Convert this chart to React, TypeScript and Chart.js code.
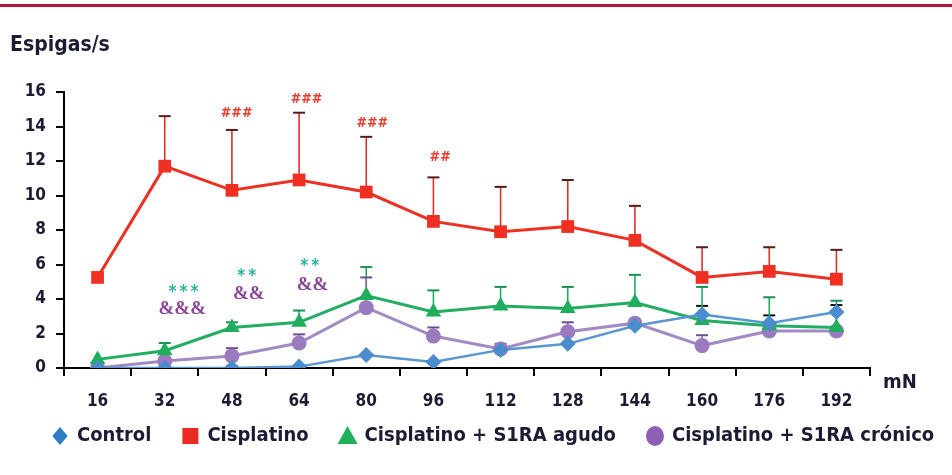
import React, { useEffect, useRef } from "react";
import { Chart, registerables } from "chart.js";

Chart.register(...registerables);

const categories = ["16", "32", "48", "64", "80", "96", "112", "128", "144", "160", "176", "192"];

const controlValues = [0, 0, 0, 0.08, 0.75, 0.35, 1.05, 1.4, 2.45, 3.1, 2.6, 3.25];
const controlErrors = [0, 0, 0.1, 0, 0, 0, 0, 0, 0, 0.5, 0.45, 0.4];

const cisplatinoValues = [5.25, 11.7, 10.3, 10.9, 10.2, 8.5, 7.9, 8.2, 7.4, 5.25, 5.6, 5.15];
const cisplatinoErrors = [0, 2.9, 3.5, 3.9, 3.2, 2.55, 2.6, 2.7, 2.0, 1.75, 1.4, 1.7];

const agudoValues = [0.5, 1.0, 2.35, 2.65, 4.2, 3.25, 3.6, 3.45, 3.8, 2.75, 2.45, 2.35];
const agudoErrors = [0, 0.45, 0.3, 0.68, 1.65, 1.25, 1.1, 1.25, 1.6, 1.95, 1.65, 1.55];

const cronicoValues = [0, 0.4, 0.7, 1.45, 3.5, 1.85, 1.1, 2.1, 2.6, 1.3, 2.15, 2.15];
const cronicoErrors = [0, 0.1, 0.45, 0.5, 1.75, 0.5, 0.3, 0.55, 0, 0.6, 0.2, 0];

const yTicks = [0, 2, 4, 6, 8, 10, 12, 14, 16];

// annotations: text, x (category index position), y (data value), kind
const annotationTexts = ["###", "###", "###", "##", "***", "&&&", "**", "&&", "**", "&&"];
const annotationX = [2.07, 3.11, 4.09, 5.1, 1.28, 1.26, 2.22, 2.25, 3.16, 3.2];
const annotationY = [14.75, 15.56, 14.2, 12.2, 4.55, 3.43, 5.5, 4.26, 6.07, 4.78];
const annotationKinds = ["hash", "hash", "hash", "hash", "star", "amp", "star", "amp", "star", "amp"];

const TEXT_COLOR = "#1b1b36";
const FONT = "'DejaVu Sans Condensed', 'DejaVu Sans', sans-serif";

const errorBarPlugin = {
  id: "errorBars",
  beforeDatasetsDraw(chart: any) {
    const { ctx } = chart;
    const y = chart.scales.y;
    chart.data.datasets.forEach((ds: any, di: number) => {
      const meta = chart.getDatasetMeta(di);
      const errs: number[] = ds.errors || [];
      ctx.save();
      ds.data.forEach((v: number, i: number) => {
        const e = errs[i];
        if (!e) return;
        const pt = meta.data[i];
        const x = pt.x;
        const y0 = y.getPixelForValue(v);
        const y1 = y.getPixelForValue(v + e);
        ctx.strokeStyle = ds.errorColor;
        ctx.lineWidth = 1.6;
        ctx.beginPath();
        ctx.moveTo(x, y0);
        ctx.lineTo(x, y1);
        ctx.stroke();
        ctx.strokeStyle = ds.capColor;
        ctx.lineWidth = 2;
        ctx.beginPath();
        ctx.moveTo(x - 6, y1);
        ctx.lineTo(x + 6, y1);
        ctx.stroke();
      });
      ctx.restore();
    });
  },
};

const annotationPlugin = {
  id: "annots",
  afterDatasetsDraw(chart: any) {
    const { ctx } = chart;
    const xs = chart.scales.x;
    const ys = chart.scales.y;
    ctx.save();
    ctx.textAlign = "center";
    ctx.textBaseline = "middle";
    annotationTexts.forEach((t, i) => {
      const kind = annotationKinds[i];
      const x = xs.getPixelForValue(annotationX[i]);
      const y = ys.getPixelForValue(annotationY[i]);
      if (kind === "hash") {
        ctx.font = `bold 14px ${FONT}`;
        ctx.fillStyle = "#ee3a2c";
        ctx.fillText(t, x, y);
      } else if (kind === "star") {
        ctx.font = `bold 17px ${FONT}`;
        ctx.fillStyle = "#2db39a";
        const s = t.split("").join("\u2009");
        ctx.fillText(s, x, y + 3);
      } else {
        ctx.font = `bold 19px 'Liberation Serif', 'DejaVu Serif', serif`;
        ctx.fillStyle = "#8b4599";
        ctx.fillText(t, x, y);
      }
    });
    ctx.restore();
  },
};

const extrasPlugin = {
  id: "extras",
  afterDraw(chart: any) {
    const { ctx } = chart;
    ctx.save();
    // y-axis title
    ctx.font = `bold 21px ${FONT}`;
    ctx.fillStyle = TEXT_COLOR;
    ctx.textAlign = "left";
    ctx.textBaseline = "middle";
    ctx.fillText("Espigas/s", 10, 46);
    // x unit
    ctx.font = `bold 20px ${FONT}`;
    ctx.fillText("mN", 883, 383);

    // legend
    const ly = 436;
    let mx = 60;
    ctx.font = `bold 20px ${FONT}`;
    chart.data.datasets.forEach((ds: any) => {
      ctx.fillStyle = ds.legendColor;
      ctx.beginPath();
      const r = 9;
      if (ds.pointStyle === "rectRot") {
        ctx.moveTo(mx, ly - r);
        ctx.lineTo(mx + r * 0.85, ly);
        ctx.lineTo(mx, ly + r);
        ctx.lineTo(mx - r * 0.85, ly);
        ctx.closePath();
      } else if (ds.pointStyle === "rect") {
        ctx.rect(mx - 8, ly - 8, 16, 16);
      } else if (ds.pointStyle === "triangle") {
        ctx.moveTo(mx, ly - 10);
        ctx.lineTo(mx + 10, ly + 8);
        ctx.lineTo(mx - 10, ly + 8);
        ctx.closePath();
      } else {
        ctx.ellipse(mx, ly, 9, 10, 0, 0, Math.PI * 2);
      }
      ctx.fill();
      ctx.fillStyle = TEXT_COLOR;
      ctx.textAlign = "left";
      ctx.textBaseline = "middle";
      const tx = mx + 17;
      ctx.fillText(ds.label, tx, ly);
      mx = tx + ctx.measureText(ds.label).width + 39;
    });
    ctx.restore();
  },
};

export default function App() {
  const ref = useRef<HTMLCanvasElement | null>(null);

  useEffect(() => {
    if (!ref.current) return;
    const chart = new Chart(ref.current, {
      type: "line",
      data: {
        labels: categories,
        datasets: [
          {
            label: "Control",
            data: controlValues,
            errors: controlErrors,
            borderColor: "#5a96d2",
            backgroundColor: "#4a8ccd",
            legendColor: "#2f7ec3",
            errorColor: "#3a3a3a",
            capColor: "#111111",
            pointStyle: "rectRot",
            pointRadius: 8,
            pointBackgroundColor: "#4a8ccd",
            pointBorderWidth: 0,
            borderWidth: 2.5,
            order: 1,
          },
          {
            label: "Cisplatino",
            data: cisplatinoValues,
            errors: cisplatinoErrors,
            borderColor: "#ee2f22",
            backgroundColor: "#ee2f22",
            legendColor: "#ec2a22",
            errorColor: "#e0302a",
            capColor: "#5a1a16",
            pointStyle: "rect",
            pointRadius: 9,
            pointBackgroundColor: "#ee2f22",
            pointBorderWidth: 0,
            borderWidth: 3,
            order: 0,
          },
          {
            label: "Cisplatino + S1RA agudo",
            data: agudoValues,
            errors: agudoErrors,
            borderColor: "#22ad62",
            backgroundColor: "#1fae5c",
            legendColor: "#1fb05a",
            errorColor: "#22ad62",
            capColor: "#1a8f4f",
            pointStyle: "triangle",
            pointRadius: 9,
            pointBackgroundColor: "#1fae5c",
            pointBorderWidth: 0,
            borderWidth: 3,
            order: 2,
          },
          {
            label: "Cisplatino + S1RA crónico",
            data: cronicoValues,
            errors: cronicoErrors,
            borderColor: "#a28ac4",
            backgroundColor: "#9b7bbf",
            legendColor: "#8e5fb2",
            errorColor: "#8e6bb0",
            capColor: "#6d4c90",
            pointStyle: "circle",
            pointRadius: 7.5,
            pointBackgroundColor: "#9b7bbf",
            pointBorderWidth: 0,
            borderWidth: 3,
            order: 3,
          },
        ] as any,
      },
      options: {
        responsive: false,
        animation: false,
        events: [],
        layout: { padding: { top: 92, right: 82, left: 0, bottom: 0 } },
        plugins: { legend: { display: false }, tooltip: { enabled: false } },
        scales: {
          x: {
            type: "category",
            offset: true,
            grid: { offset: true, drawOnChartArea: false, color: "#000", lineWidth: 2, tickLength: 8 },
            border: { color: "#000", width: 2 },
            ticks: { color: TEXT_COLOR, font: { family: FONT, size: 17, weight: "bold" }, padding: 15, maxRotation: 0 },
            afterFit: (s: any) => {
              s.height = 107;
            },
          },
          y: {
            min: 0,
            max: 16,
            afterBuildTicks: (s: any) => {
              s.ticks = yTicks.map((v) => ({ value: v }));
            },
            grid: { drawOnChartArea: false, color: "#000", lineWidth: 2, tickLength: 8 },
            border: { color: "#000", width: 2 },
            ticks: { color: TEXT_COLOR, font: { family: FONT, size: 17, weight: "bold" }, padding: 10 },
            afterFit: (s: any) => {
              s.width = 64;
            },
          },
        },
      } as any,
      plugins: [errorBarPlugin, annotationPlugin, extrasPlugin],
    });
    return () => chart.destroy();
  }, []);

  return (
    <div style={{ position: "fixed", left: 0, top: 0, width: 952, height: 475, background: "#fff" }}>
      <div style={{ position: "absolute", left: 0, top: 4, width: 952, height: 3, background: "#b3143d" }} />
      <canvas ref={ref} width={952} height={475} style={{ position: "absolute", left: 0, top: 0 }} />
    </div>
  );
}
